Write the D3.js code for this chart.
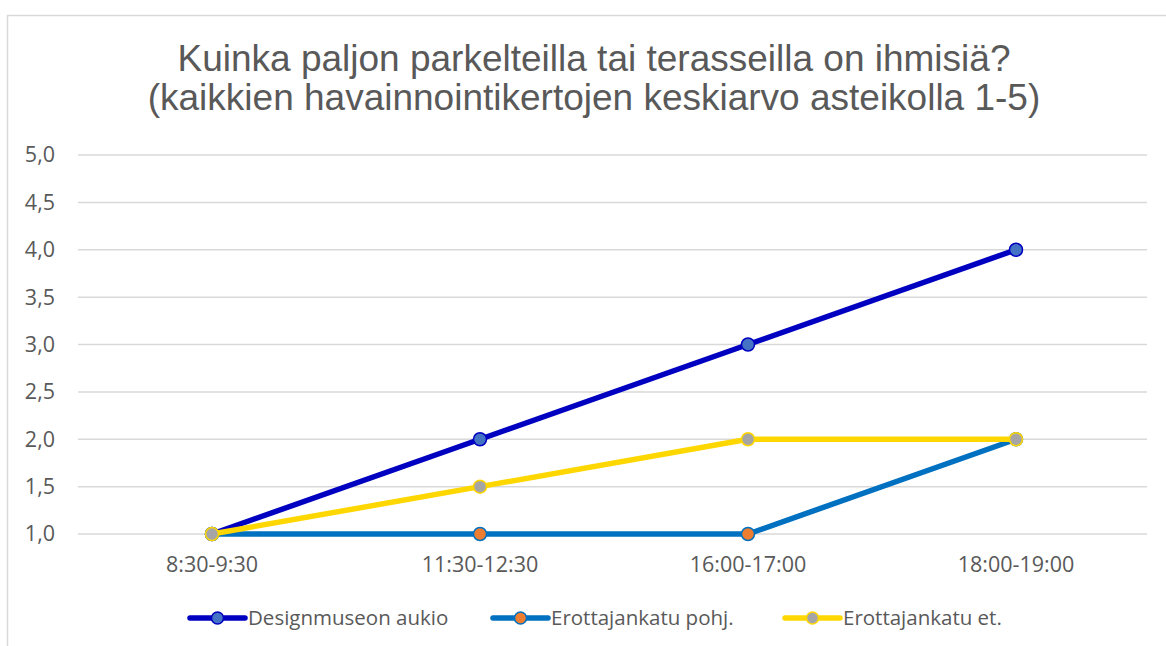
<!DOCTYPE html>
<html>
<head>
<meta charset="utf-8">
<script src="https://cdn.jsdelivr.net/npm/d3@7"></script>
<style>
  body { margin: 0; background: #fff; }
  svg { display: block; }
</style>
</head>
<body>
<div id="chart"></div>
<script>
// data
var categories = ["8:30-9:30", "11:30-12:30", "16:00-17:00", "18:00-19:00"];
var seriesNames = ["Designmuseon aukio", "Erottajankatu pohj.", "Erottajankatu et."];
var designmuseo = [1, 2, 3, 4];
var erottajaPohj = [1, 1, 1, 2];
var erottajaEt = [1, 1.5, 2, 2];
var yTicks = [1, 1.5, 2, 2.5, 3, 3.5, 4, 4.5, 5];
var titleLines = ["Kuinka paljon parkelteilla tai terasseilla on ihmisiä?",
                  "(kaikkien havainnointikertojen keskiarvo asteikolla 1-5)"];

var width = 1166, height = 646;
var lineColors = ["#0000C0", "#0070C0", "#FFD700"];
var markerFills = ["#4472C4", "#ED7D31", "#A5A5A5"];
var seriesValues = [designmuseo, erottajaPohj, erottajaEt];

var svg = d3.select("#chart").append("svg")
  .attr("width", width)
  .attr("height", height);

// chart frame
svg.append("rect")
  .attr("x", 7.5).attr("y", 15.5)
  .attr("width", 1200).attr("height", 700)
  .attr("fill", "#fff")
  .attr("stroke", "#d9d9d9")
  .attr("stroke-width", 1.5);

// title
svg.append("g").selectAll("text")
  .data(titleLines)
  .enter()
  .append("text")
  .text(function(d) { return d; })
  .attr("x", 594)
  .attr("y", function(d, i) { return 71 + i * 39; })
  .attr("text-anchor", "middle")
  .style("font-family", "'Liberation Sans', Arial, sans-serif")
  .style("font-size", "37px")
  .style("fill", "#595959");

var x = d3.scaleBand().domain(categories).range([78, 1150]);
var y = d3.scaleLinear().domain([1, 5]).range([534, 155]);

// gridlines
svg.append("g").selectAll("line")
  .data(yTicks)
  .enter()
  .append("line")
  .attr("x1", 78).attr("x2", 1147)
  .attr("y1", function(d) { return y(d); })
  .attr("y2", function(d) { return y(d); })
  .attr("stroke", "#d9d9d9")
  .attr("stroke-width", 1.5);

var axisFont = "'Open Sans', 'Noto Sans', sans-serif";

// y axis
var yAxis = svg.append("g")
  .attr("transform", "translate(55,0)")
  .call(d3.axisLeft(y).tickValues(yTicks).tickSize(0).tickPadding(0)
    .tickFormat(function(d) { return d3.format(".1f")(d).replace(".", ","); }));
yAxis.select(".domain").remove();
yAxis.selectAll("text")
  .style("font-family", axisFont)
  .style("font-size", "21.5px")
  .style("fill", "#595959");

// x axis
var xAxis = svg.append("g")
  .attr("transform", "translate(0,557)")
  .call(d3.axisBottom(x).tickSize(0).tickPadding(0));
xAxis.select(".domain").remove();
xAxis.selectAll("text")
  .attr("dy", "0.71em")
  .style("font-family", axisFont)
  .style("font-size", "21.5px")
  .style("fill", "#595959");

var line = d3.line()
  .x(function(d, i) { return x(categories[i]) + x.bandwidth() / 2; })
  .y(function(d) { return y(d); });

// series lines + markers
seriesValues.forEach(function(vals, s) {
  var g = svg.append("g");
  g.append("path")
    .datum(vals)
    .attr("d", line)
    .attr("fill", "none")
    .attr("stroke", lineColors[s])
    .attr("stroke-width", 5.5)
    .attr("stroke-linejoin", "round");
  g.selectAll("circle")
    .data(vals)
    .enter()
    .append("circle")
    .attr("cx", function(d, i) { return x(categories[i]) + x.bandwidth() / 2; })
    .attr("cy", function(d) { return y(d); })
    .attr("r", 6.5)
    .attr("fill", markerFills[s])
    .attr("stroke", lineColors[s])
    .attr("stroke-width", 1.5);
});

// legend
var legendX = [190, 493, 785];
var legend = svg.append("g").attr("id", "legend");
var items = legend.selectAll("g")
  .data(seriesNames)
  .enter()
  .append("g")
  .attr("transform", function(d, i) { return "translate(" + legendX[i] + ",618)"; });
items.append("line")
  .attr("x1", 0).attr("x2", 55)
  .attr("stroke", function(d, i) { return lineColors[i]; })
  .attr("stroke-width", 5.5)
  .attr("stroke-linecap", "round");
items.append("circle")
  .attr("cx", 27.5)
  .attr("r", 6)
  .attr("fill", function(d, i) { return markerFills[i]; })
  .attr("stroke", function(d, i) { return lineColors[i]; })
  .attr("stroke-width", 1.5);
items.append("text")
  .text(function(d) { return d; })
  .attr("x", 58)
  .attr("dy", "0.35em")
  .style("font-family", axisFont)
  .style("font-size", "20.5px")
  .style("fill", "#595959");
</script>
</body>
</html>
